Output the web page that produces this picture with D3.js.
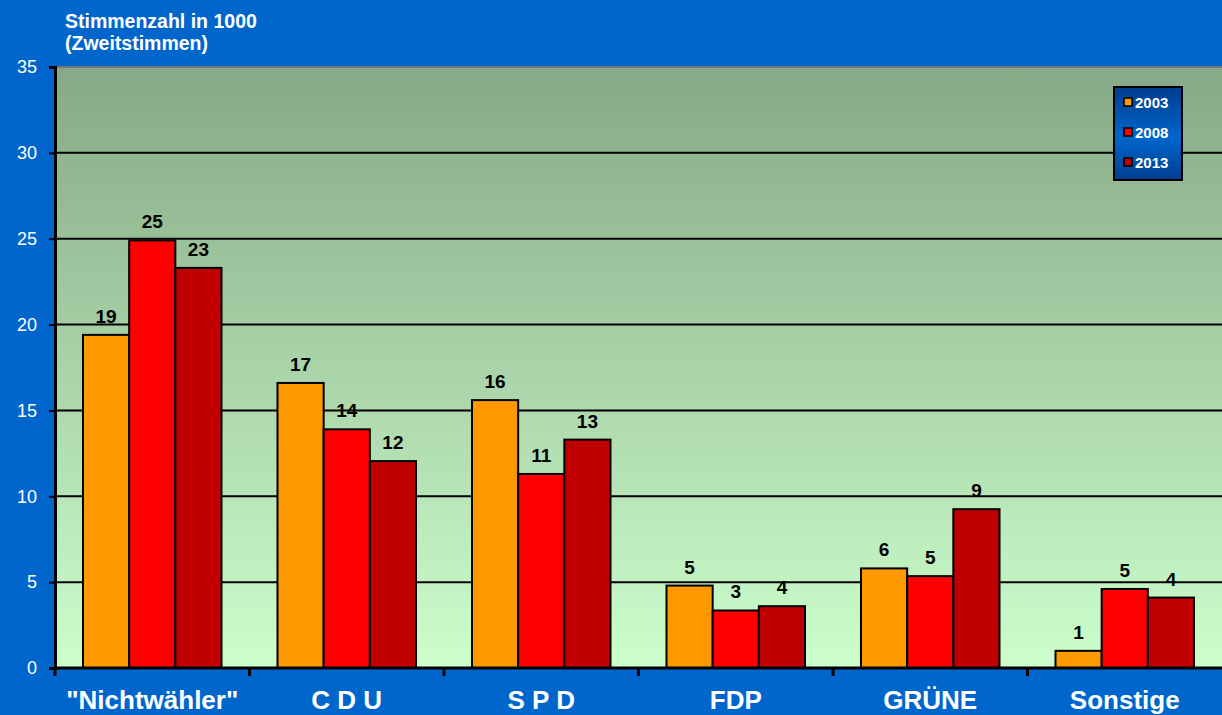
<!DOCTYPE html>
<meta charset="utf-8">
<script src="https://d3js.org/d3.v7.min.js"></script>
<style>
  body { margin: 0; background: #0066CC; }
  svg { display: block; font-family: Arial, "Liberation Sans", sans-serif; }
</style>
<div id="my_dataviz"></div>
<script>

// data
var parties = ['"Nichtwähler"', "C D U", "S P D", "FDP", "GRÜNE", "Sonstige"];
var years = ["2003", "2008", "2013"];
var votes2003 = [19.4, 16.6, 15.6, 4.8, 5.8, 1.0];
var votes2008 = [24.9, 13.9, 11.3, 3.35, 5.35, 4.6];
var votes2013 = [23.3, 12.05, 13.3, 3.6, 9.25, 4.1];
var labels2003 = ["19", "17", "16", "5", "6", "1"];
var labels2008 = ["25", "14", "11", "3", "5", "5"];
var labels2013 = ["23", "12", "13", "4", "9", "4"];
var yTicks = [0, 5, 10, 15, 20, 25, 30, 35];

var colors = ["#FF9900", "#FF0000", "#C00000"];

var W = 1222, H = 715;
var margin = {top: 67, right: 0, bottom: 47, left: 55};
var width = W - margin.left - margin.right,
    height = H - margin.top - margin.bottom;

var svg = d3.select("#my_dataviz")
  .append("svg")
    .attr("width", W)
    .attr("height", H);

// background
svg.append("rect").attr("width", W).attr("height", H).attr("fill", "#0066CC");

var defs = svg.append("defs");
var grad = defs.append("linearGradient")
    .attr("id", "plotbg").attr("x1", 0).attr("y1", 0).attr("x2", 0).attr("y2", 1);
grad.append("stop").attr("offset", "0%").attr("stop-color", "#86A886");
grad.append("stop").attr("offset", "100%").attr("stop-color", "#CCFFCC");

var lgrad = defs.append("linearGradient")
    .attr("id", "legbg").attr("x1", 0).attr("y1", 0).attr("x2", 0).attr("y2", 1);
lgrad.append("stop").attr("offset", "0%").attr("stop-color", "#003D8F");
lgrad.append("stop").attr("offset", "55%").attr("stop-color", "#0066CC");
lgrad.append("stop").attr("offset", "100%").attr("stop-color", "#003D8F");

var g = svg.append("g")
    .attr("transform", "translate(" + margin.left + "," + margin.top + ")");

g.append("rect")
  .attr("width", width).attr("height", height)
  .attr("fill", "url(#plotbg)");

// scales
var x = d3.scaleBand().domain(parties).range([0, width]);
var y = d3.scaleLinear().domain([0, 35]).range([height, 0]);

var inner = 28;
var x1 = d3.scaleBand().domain(years)
  .range([inner, x.bandwidth() - inner]);

// gridlines
g.append("g")
  .selectAll("line")
  .data(yTicks.filter(function(d) { return d > 0 && d < 35; }))
  .enter().append("line")
    .attr("x1", 0).attr("x2", width)
    .attr("y1", function(d) { return y(d); })
    .attr("y2", function(d) { return y(d); })
    .attr("stroke", "#000").attr("stroke-width", 2);

// top border
g.append("line")
  .attr("x1", 0).attr("x2", width).attr("y1", 0).attr("y2", 0)
  .attr("stroke", "#777").attr("stroke-width", 2);

// bars
var series = [votes2003, votes2008, votes2013];
var labels = [labels2003, labels2008, labels2013];

var groups = g.selectAll(".grp")
  .data(parties)
  .enter().append("g")
    .attr("transform", function(d) { return "translate(" + x(d) + ",0)"; });

groups.each(function(p, i) {
  var grp = d3.select(this);
  years.forEach(function(yr, j) {
    var v = series[j][i];
    grp.append("rect")
      .attr("x", x1(yr))
      .attr("y", y(v))
      .attr("width", x1.bandwidth())
      .attr("height", height - y(v))
      .attr("fill", colors[j])
      .attr("stroke", "#000")
      .attr("stroke-width", 2);
    grp.append("text")
      .attr("x", x1(yr) + x1.bandwidth() / 2)
      .attr("y", y(v) - 12)
      .attr("text-anchor", "middle")
      .attr("font-size", 19)
      .attr("font-weight", "bold")
      .attr("fill", "#000")
      .text(labels[j][i]);
  });
});

// y axis
var yAxis = g.append("g")
  .call(d3.axisLeft(y).tickValues(yTicks).tickSize(6).tickPadding(12));
yAxis.select(".domain").attr("stroke", "#000").attr("stroke-width", 3);
yAxis.selectAll(".tick line").attr("stroke", "#000").attr("stroke-width", 2);
yAxis.selectAll(".tick text")
  .attr("fill", "#fff").attr("font-size", 18).attr("font-family", "Arial, 'Liberation Sans', sans-serif");

// x axis
var xAxis = g.append("g")
  .attr("transform", "translate(0," + height + ")")
  .call(d3.axisBottom(x).tickSize(0).tickPadding(0));
xAxis.select(".domain").remove();
xAxis.selectAll(".tick text").remove();
xAxis.append("line")
  .attr("x1", 0).attr("x2", width).attr("y1", 0).attr("y2", 0)
  .attr("stroke", "#000").attr("stroke-width", 3);
xAxis.selectAll(".sep")
  .data(d3.range(parties.length))
  .enter().append("line")
    .attr("x1", function(i) { return x.step() * i; })
    .attr("x2", function(i) { return x.step() * i; })
    .attr("y1", 0).attr("y2", 8)
    .attr("stroke", "#000").attr("stroke-width", 3);
xAxis.selectAll(".cat")
  .data(parties)
  .enter().append("text")
    .attr("x", function(d) { return x(d) + x.bandwidth() / 2; })
    .attr("y", 41)
    .attr("text-anchor", "middle")
    .attr("font-size", 26)
    .attr("font-weight", "bold")
    .attr("fill", "#fff")
    .text(function(d) { return d; });

// title
svg.append("text")
  .attr("x", 65).attr("y", 28)
  .attr("font-size", 19.5).attr("font-weight", "bold").attr("fill", "#fff")
  .text("Stimmenzahl in 1000");
svg.append("text")
  .attr("x", 65).attr("y", 50)
  .attr("font-size", 19.5).attr("font-weight", "bold").attr("fill", "#fff")
  .text("(Zweitstimmen)");

// legend
var leg = svg.append("g").attr("transform", "translate(1114,87)");
leg.append("rect")
  .attr("width", 68).attr("height", 93)
  .attr("fill", "url(#legbg)")
  .attr("stroke", "#000").attr("stroke-width", 2);
years.forEach(function(yr, j) {
  leg.append("rect")
    .attr("x", 10).attr("y", 11 + j * 30)
    .attr("width", 8).attr("height", 8)
    .attr("fill", colors[j])
    .attr("stroke", "#000").attr("stroke-width", 1.5);
  leg.append("text")
    .attr("x", 21).attr("y", 21 + j * 30)
    .attr("font-size", 15).attr("font-weight", "bold").attr("fill", "#fff")
    .text(yr);
});

</script>
